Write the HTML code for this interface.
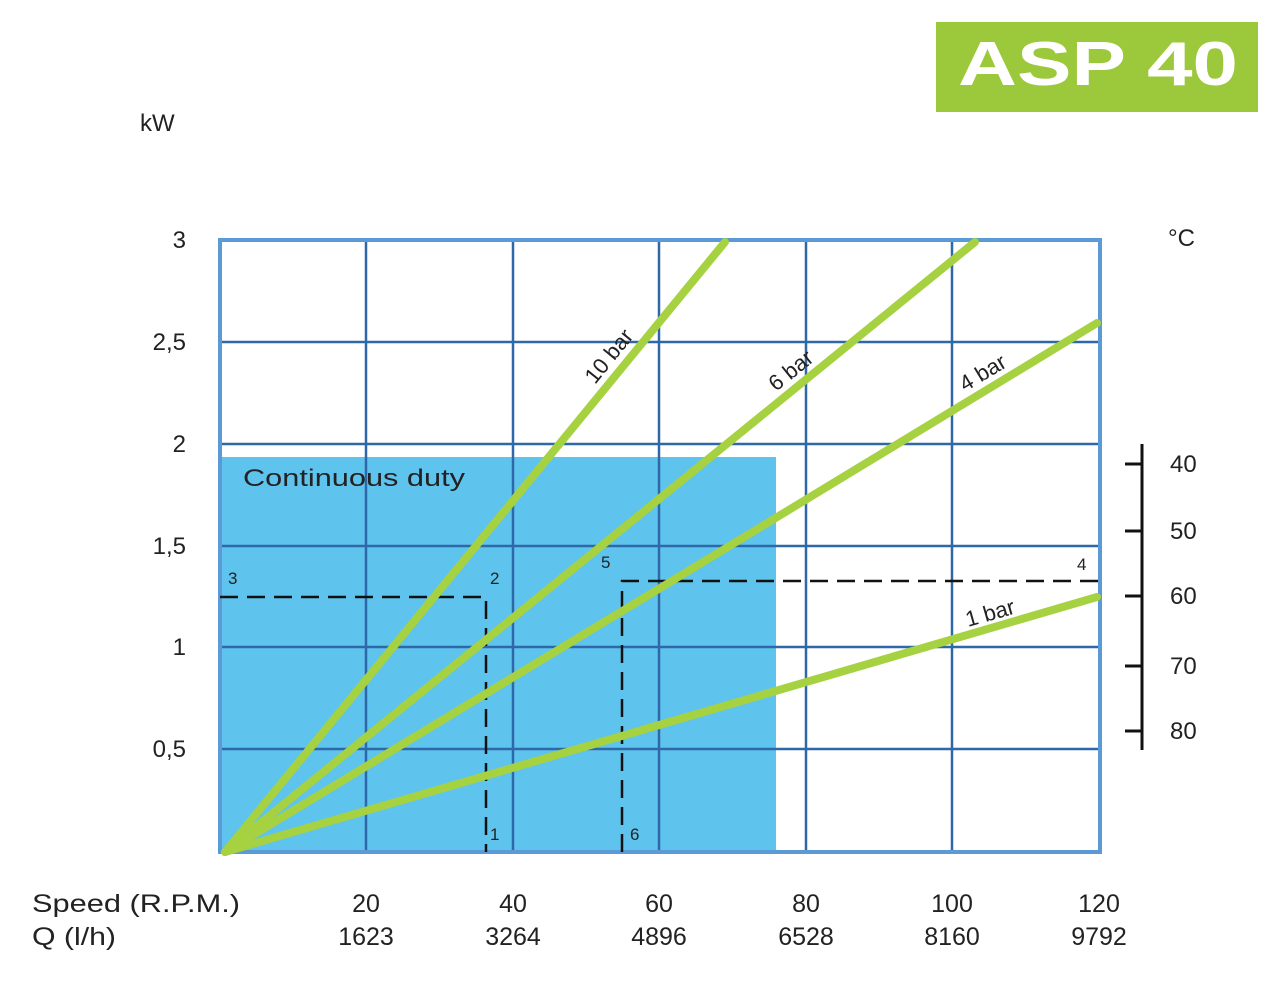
<!DOCTYPE html>
<html><head><meta charset="utf-8"><style>
body{margin:0;background:#fff;width:1276px;height:1000px;overflow:hidden}
svg text{font-family:"Liberation Sans",sans-serif;fill:#222}
</style></head><body>
<svg width="1276" height="1000" viewBox="0 0 1276 1000">
<rect x="936" y="22" width="322" height="90" fill="#9cc83c"/>
<text x="958" y="85" textLength="280" lengthAdjust="spacingAndGlyphs" font-size="62" font-weight="bold" style="fill:#fff">ASP 40</text>
<text x="140" y="131" font-size="24">kW</text>
<text x="1168" y="246" font-size="24">°C</text>
<rect x="220" y="457" width="556" height="395" fill="#5ec4ee"/>
<g stroke="#2f68a8" stroke-width="2.5" fill="none">
<line x1="366" y1="240" x2="366" y2="852"/><line x1="513" y1="240" x2="513" y2="852"/>
<line x1="659" y1="240" x2="659" y2="852"/><line x1="806" y1="240" x2="806" y2="852"/>
<line x1="952" y1="240" x2="952" y2="852"/>
<line x1="220" y1="342" x2="1100" y2="342"/><line x1="220" y1="444" x2="1100" y2="444"/>
<line x1="220" y1="546" x2="1100" y2="546"/><line x1="220" y1="647" x2="1100" y2="647"/>
<line x1="220" y1="749" x2="1100" y2="749"/>
</g>
<rect x="220" y="240" width="880" height="612" fill="none" stroke="#5b9bd5" stroke-width="4"/>
<g stroke="#111" stroke-width="2.5" fill="none" stroke-dasharray="18,9">
<polyline points="220,597 486,597 486,852"/>
<polyline points="622,852 622,581 1100,581"/>
</g>
<g font-size="17"><text x="228" y="584">3</text><text x="490" y="584">2</text><text x="490" y="840">1</text>
<text x="601" y="568">5</text><text x="630" y="840">6</text><text x="1077" y="570">4</text></g>
<g stroke="#222" stroke-width="3"><line x1="225" y1="852" x2="725" y2="242"/><line x1="225" y1="852" x2="975" y2="242"/><line x1="225" y1="852" x2="1097" y2="323"/><line x1="225" y1="852" x2="1097" y2="597"/></g>
<g stroke="#a6d140" stroke-width="8" stroke-linecap="round"><line x1="225" y1="852" x2="725" y2="242"/><line x1="225" y1="852" x2="975" y2="242"/><line x1="225" y1="852" x2="1097" y2="323"/><line x1="225" y1="852" x2="1097" y2="597"/></g>
<text x="243" y="486" font-size="24" textLength="222" lengthAdjust="spacingAndGlyphs">Continuous duty</text>
<g font-size="22"><text transform="translate(595,385) rotate(-51)">10 bar</text>
<text transform="translate(776,392) rotate(-39)">6 bar</text>
<text transform="translate(965,392) rotate(-31)">4 bar</text>
<text transform="translate(968,627) rotate(-16)">1 bar</text></g>
<g font-size="24" text-anchor="end"><text x="186" y="248">3</text><text x="186" y="350">2,5</text><text x="186" y="452">2</text>
<text x="186" y="554">1,5</text><text x="186" y="655">1</text><text x="186" y="757">0,5</text></g>
<g stroke="#111" stroke-width="3"><line x1="1142" y1="444" x2="1142" y2="750"/>
<line x1="1125" y1="464" x2="1142" y2="464"/><line x1="1125" y1="531" x2="1142" y2="531"/><line x1="1125" y1="596" x2="1142" y2="596"/>
<line x1="1125" y1="666" x2="1142" y2="666"/><line x1="1125" y1="731" x2="1142" y2="731"/></g>
<g font-size="24"><text x="1170" y="472">40</text><text x="1170" y="539">50</text><text x="1170" y="604">60</text><text x="1170" y="674">70</text><text x="1170" y="739">80</text></g>
<g font-size="25"><text x="32" y="912" textLength="208" lengthAdjust="spacingAndGlyphs">Speed (R.P.M.)</text><text x="32" y="945" textLength="84" lengthAdjust="spacingAndGlyphs">Q (l/h)</text></g>
<g font-size="25" text-anchor="middle">
<text x="366" y="912">20</text><text x="366" y="945">1623</text>
<text x="513" y="912">40</text><text x="513" y="945">3264</text>
<text x="659" y="912">60</text><text x="659" y="945">4896</text>
<text x="806" y="912">80</text><text x="806" y="945">6528</text>
<text x="952" y="912">100</text><text x="952" y="945">8160</text>
<text x="1099" y="912">120</text><text x="1099" y="945">9792</text></g>
</svg></body></html>
